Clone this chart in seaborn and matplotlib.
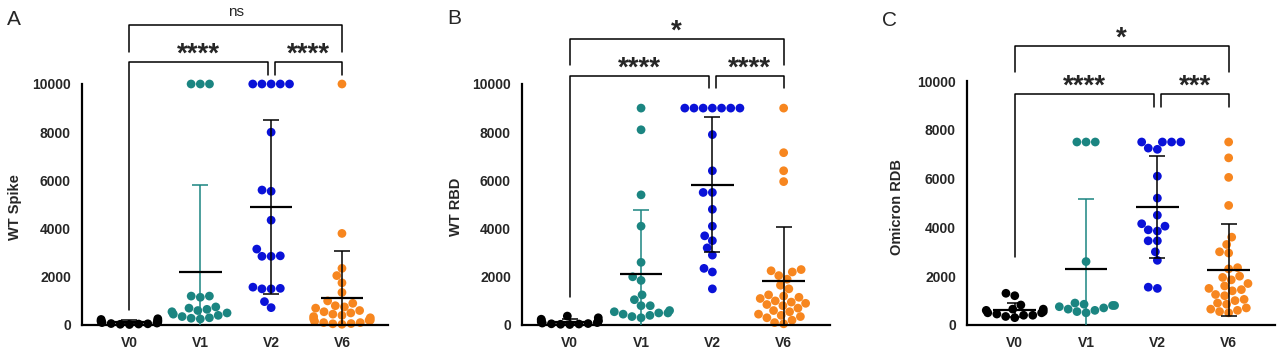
import numpy as np
import pandas as pd
import matplotlib
matplotlib.use("Agg")
import matplotlib.pyplot as plt
import seaborn as sns

#----------------------------------
# Data
#----------------------------------
visits = ["V0", "V1", "V2", "V6"]
palette = ["#000000", "#1b8581", "#0a12d8", "#f7861f"]

# A - WT Spike
spike_v0 = [260, 230, 200, 170, 140, 120, 100, 80, 60, 50, 40, 30, 20, 180]
spike_v1 = [10000, 10000, 10000, 1200, 1150, 1200, 700, 650, 600, 750, 500,
            300, 250, 350, 280, 400, 550, 450]
spike_v2 = [10000, 10000, 10000, 10000, 10000, 8000, 5550, 5600, 4350, 3150,
            2850, 2850, 2870, 1500, 1500, 1520, 1570, 970, 720]
spike_v6 = [10000, 3800, 2350, 2050, 1750, 1350, 1000, 900, 800, 750, 700, 600,
            550, 500, 450, 400, 350, 300, 250, 200, 150, 100, 60, 30, 200, 100, 50]

# B - WT RBD
rbd_v0 = [370, 300, 240, 200, 160, 130, 100, 80, 60, 50, 40, 30, 20, 180]
rbd_v1 = [9000, 8100, 5400, 4100, 2600, 2000, 1850, 1250, 1050, 800, 800, 600,
          550, 500, 500, 450, 400, 350, 300]
rbd_v2 = [9000, 9000, 9000, 9000, 9000, 9000, 9000, 7900, 6400, 5500, 5500,
          4800, 4100, 3700, 3500, 3200, 2900, 2350, 2200, 1500]
rbd_v6 = [9000, 7150, 6400, 5950, 2300, 2250, 2200, 2050, 1900, 1650, 1500, 1250,
          1200, 1150, 1100, 1000, 950, 900, 850, 800, 700, 600, 550, 450, 400,
          350, 300, 200, 100, 50]

# C - Omicron RDB
omi_v0 = [1300, 1200, 820, 650, 600, 550, 500, 500, 450, 400, 400, 350, 300, 650]
omi_v1 = [7500, 7500, 7500, 2600, 900, 850, 800, 800, 750, 700, 650, 600, 550, 500]
omi_v2 = [7500, 7500, 7500, 7500, 7250, 7200, 6100, 5200, 4500, 4150, 4050, 3900,
          3850, 3450, 3450, 3000, 2650, 1500, 1550]
omi_v6 = [7500, 6850, 6050, 4900, 3600, 3300, 3000, 2950, 2350, 2300, 2000, 1950,
          1850, 1700, 1600, 1500, 1450, 1400, 1250, 1200, 1050, 1000, 900, 850,
          700, 650, 600, 550, 500]

ylabels = ["WT Spike", "WT RBD", "Omicron RDB"]
letters = ["A", "B", "C"]
# significance labels: (V0 vs V6, V0 vs V2, V2 vs V6)
sig_labels = [["ns", "****", "****"],
              ["*", "****", "****"],
              ["*", "****", "***"]]

panels = [[spike_v0, spike_v1, spike_v2, spike_v6],
          [rbd_v0, rbd_v1, rbd_v2, rbd_v6],
          [omi_v0, omi_v1, omi_v2, omi_v6]]

#----------------------------------
# Layout
#----------------------------------
W, H = 1280, 354
axes_px = [(82, 306), (522, 308), (967, 308)]   # left, width in pixels
ytops = [13278, 13278, 13115]
label_x = [-0.196, -0.191, -0.204]
letter_px = [(7, 25), (447, 24), (882, 26)]
# bracket geometry: outer y, outer leg end, inner y, V0 leg end, inner leg end
brackets = [(12450, 11330, 10900, 620, 10370),
            (11870, 10790, 10330, 1160, 9830),
            (11430, 10370, 9470, 2790, 8930)]

sns.set_style("white")
plt.rcParams["font.family"] = ["Liberation Sans", "DejaVu Sans"]

fig = plt.figure(figsize=(W / 100, H / 100), dpi=100)

for p in range(3):
    left, width = axes_px[p]
    ax = fig.add_axes([left / W, 29 / H, width / W, 320 / H])

    df = pd.DataFrame({
        "visit": np.repeat(visits, [len(g) for g in panels[p]]),
        "value": np.concatenate(panels[p]),
    })

    sns.swarmplot(data=df, x="visit", y="value", hue="visit", order=visits,
                  hue_order=visits, palette=palette, size=6.3, linewidth=0,
                  legend=False, ax=ax, zorder=2, warn_thresh=1)
    for coll in ax.collections:
        coll.set_clip_on(False)

    # mean +/- SD
    for i, g in enumerate(panels[p]):
        m = np.mean(g)
        sd = np.std(g, ddof=1)
        ec = palette[1] if i == 1 else "black"
        ax.errorbar(i, m, yerr=sd, fmt="none", ecolor=ec, elinewidth=1.1,
                    capsize=6, capthick=1.1, zorder=3)
        ax.hlines(m, i - 0.3, i + 0.3, color="black", lw=1.6, zorder=4,
                  clip_on=False)

    # significance brackets
    oy, oleg, iy, v0leg, ileg = brackets[p]
    s_out, s_left, s_right = sig_labels[p]
    kw = dict(color="black", lw=1.1, clip_on=False)
    ax.plot([0, 0, 3, 3], [oleg, oy, oy, oleg], **kw)
    ax.plot([0, 0, 1.95, 1.95], [v0leg, iy, iy, ileg], **kw)
    ax.plot([2.05, 2.05, 3, 3], [ileg, iy, iy, ileg], **kw)
    star_kw = dict(ha="center", va="baseline", fontsize=20, fontweight="bold",
                   xytext=(0, 0.5), textcoords="offset points",
                   annotation_clip=False)
    if s_out == "ns":
        ax.annotate(s_out, (1.5, oy), xytext=(0, 6.5), textcoords="offset points",
                    ha="center", va="baseline", fontsize=11,
                    annotation_clip=False)
    else:
        ax.annotate(s_out, (1.5, oy), **star_kw)
    ax.annotate(s_left, (0.975, iy), **star_kw)
    ax.annotate(s_right, (2.525, iy), **star_kw)

    # axes styling
    ax.set_xlim(-0.67, 3.65)
    ax.set_ylim(0, ytops[p])
    ax.set_yticks(np.arange(0, 10001, 2000))
    ax.set_yticklabels([str(v) for v in range(0, 10001, 2000)])
    ax.set_xlabel("")
    ax.set_ylabel(ylabels[p], fontsize=10.5, fontweight="bold")
    ax.yaxis.set_label_coords(label_x[p], 0.37)
    for s in ["top", "right"]:
        ax.spines[s].set_visible(False)
    for s in ["left", "bottom"]:
        ax.spines[s].set_linewidth(1.6)
        ax.spines[s].set_color("black")
    ax.spines["left"].set_bounds(0, 10000)
    ax.tick_params(axis="both", direction="out", length=6.5, width=1.5,
                   color="black", labelsize=10, pad=1.5)
    ax.tick_params(axis="x", length=6, pad=2)
    for lab in ax.get_xticklabels() + ax.get_yticklabels():
        lab.set_fontweight("bold")

    lx, ly = letter_px[p]
    fig.text(lx / W, 1 - ly / H, letters[p], fontsize=15, va="baseline",
             ha="left")

fig.savefig("out.png", dpi=100, facecolor="white")
